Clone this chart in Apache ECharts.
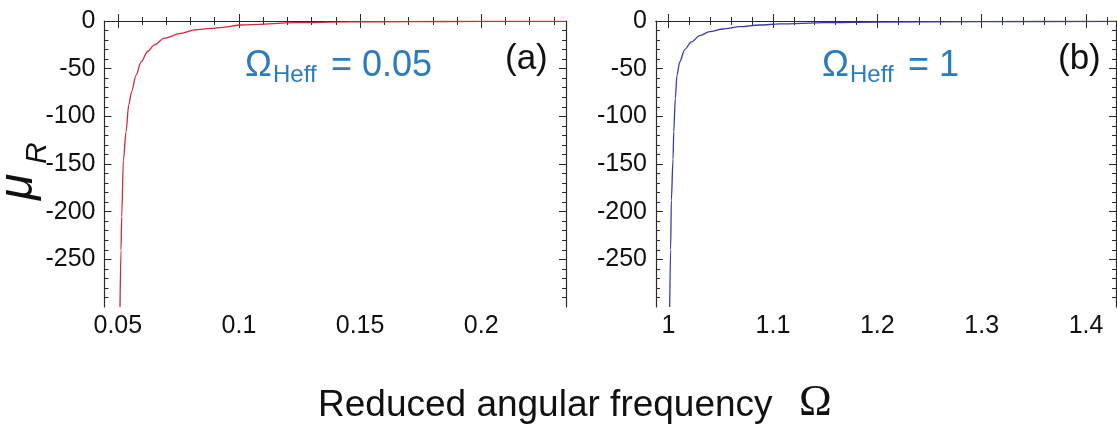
<!DOCTYPE html>
<html>
<head>
<meta charset="utf-8">
<script src="https://cdn.jsdelivr.net/npm/echarts@6/dist/echarts.min.js"></script>
<style>
html,body{margin:0;padding:0;background:#fff;}
#chart{width:1117px;height:430px;}
</style>
</head>
<body>
<div id="chart"></div>
<script>
// ---- data ----
const omegaA = [0.0509, 0.0513, 0.0516, 0.0523, 0.0534, 0.0545, 0.0557, 0.0575, 0.0596, 0.0623, 0.0651, 0.0692, 0.0761, 0.0816, 0.0885, 0.0933, 0.1008, 0.1238, 0.145, 0.17, 0.2, 0.235];
const muA    = [-300, -240, -205, -146, -116, -88, -74, -57, -43, -32, -25, -18, -13, -9.4, -7.7, -6.6, -4.2, -1.8, -1.0, -0.6, -0.4, -0.3];
const omegaB = [1.0011, 1.0020, 1.0027, 1.0043, 1.0050, 1.0065, 1.0081, 1.0107, 1.0155, 1.0218, 1.0299, 1.0394, 1.0522, 1.0681, 1.0873, 1.1064, 1.15, 1.2, 1.3, 1.4287];
const muB    = [-300, -240, -188, -145, -116, -81, -57, -43, -30, -22, -15.4, -11.2, -8.4, -6.0, -4.2, -3.1, -1.8, -1.1, -0.6, -0.4];

const xMajorA = [0.05, 0.1, 0.15, 0.2];
const xMinorA = [0.06, 0.07, 0.08, 0.09, 0.11, 0.12, 0.13, 0.14, 0.16, 0.17, 0.18, 0.19, 0.21, 0.22, 0.23];
const xMajorB = [1, 1.1, 1.2, 1.3, 1.4];
const xMinorB = [1.02, 1.04, 1.06, 1.08, 1.12, 1.14, 1.16, 1.18, 1.22, 1.24, 1.26, 1.28, 1.32, 1.34, 1.36, 1.38, 1.42];
const yMajor = [0, -50, -100, -150, -200, -250];
const yMinor = [-10, -20, -30, -40, -60, -70, -80, -90, -110, -120, -130, -140, -160, -170, -180, -190, -210, -220, -230, -240, -260, -270, -280, -290];

const xRangeA = [0.0445, 0.235];
const xRangeB = [0.988, 1.4287];
const yRange = [-300, 0];

const panelLabels = ['(a)', '(b)'];
const heffValues = ['0.05', '1'];
const xTitle = 'Reduced angular frequency';

// ---- chart ----
const chart = echarts.init(document.getElementById('chart'));
const FRAME = '#2a2a2a';
const labelFont = {fontFamily: 'Liberation Sans, Arial', fontSize: 25, color: '#111'};

function xAxes(grid, range, major, minor) {
  const base = {type: 'value', gridIndex: grid, min: range[0], max: range[1], splitLine: {show: false}};
  return [
    Object.assign({}, base, {position: 'bottom',
      axisLine: {show: true, lineStyle: {color: FRAME, width: 1.2}},
      axisTick: {show: true, inside: true, length: 7, customValues: major, lineStyle: {color: FRAME}},
      axisLabel: Object.assign({show: true, customValues: major, margin: 7}, labelFont)}),
    Object.assign({}, base, {position: 'bottom',
      axisLine: {show: false},
      axisTick: {show: true, inside: true, length: 4, customValues: minor, lineStyle: {color: FRAME}},
      axisLabel: {show: false}}),
    Object.assign({}, base, {position: 'top',
      axisLine: {show: true, lineStyle: {color: FRAME, width: 1.2}},
      axisTick: {show: true, inside: true, length: 7, customValues: major, lineStyle: {color: FRAME}},
      axisLabel: {show: false}}),
    Object.assign({}, base, {position: 'top',
      axisLine: {show: false},
      axisTick: {show: true, inside: true, length: 4, customValues: minor, lineStyle: {color: FRAME}},
      axisLabel: {show: false}})
  ];
}
function yAxes(grid) {
  const base = {type: 'value', gridIndex: grid, min: yRange[0], max: yRange[1], splitLine: {show: false}};
  return [
    Object.assign({}, base, {position: 'left',
      axisLine: {show: true, lineStyle: {color: FRAME, width: 1.2}},
      axisTick: {show: true, inside: true, length: 7, customValues: yMajor, lineStyle: {color: FRAME}},
      axisLabel: Object.assign({show: true, customValues: yMajor, margin: 9}, labelFont)}),
    Object.assign({}, base, {position: 'left',
      axisLine: {show: false},
      axisTick: {show: true, inside: true, length: 4, customValues: yMinor, lineStyle: {color: FRAME}},
      axisLabel: {show: false}}),
    Object.assign({}, base, {position: 'right',
      axisLine: {show: true, lineStyle: {color: FRAME, width: 1.2}},
      axisTick: {show: true, inside: true, length: 7, customValues: yMajor, lineStyle: {color: FRAME}},
      axisLabel: {show: false}}),
    Object.assign({}, base, {position: 'right',
      axisLine: {show: false},
      axisTick: {show: true, inside: true, length: 4, customValues: yMinor, lineStyle: {color: FRAME}},
      axisLabel: {show: false}})
  ];
}

const BLUE_TXT = '#2b7bbd';
function heffGroup(x, val) {
  return {
    type: 'group', x: x, y: 0, children: [
      {type: 'text', x: 0, y: 48, style: {text: 'Ω', font: '36px "Liberation Sans", Arial', fill: BLUE_TXT, verticalAlign: 'top'}},
      {type: 'text', x: 28, y: 63, style: {text: 'Heff', font: '24px "Liberation Sans", Arial', fill: BLUE_TXT, verticalAlign: 'top'}},
      {type: 'text', x: 86, y: 48, style: {text: '= ' + val, font: '36px "Liberation Sans", Arial', fill: BLUE_TXT, verticalAlign: 'top'}}
    ]
  };
}

const option = {
  backgroundColor: '#fff',
  animation: false,
  grid: [
    {left: 104.5, top: 21, width: 461.5, height: 286},
    {left: 656, top: 21, width: 460, height: 286}
  ],
  xAxis: [].concat(xAxes(0, xRangeA, xMajorA, xMinorA), xAxes(1, xRangeB, xMajorB, xMinorB)),
  yAxis: [].concat(yAxes(0), yAxes(1)),
  series: [
    {type: 'line', xAxisIndex: 0, yAxisIndex: 0, showSymbol: false, smooth: 0.3, smoothMonotone: 'x',
     lineStyle: {color: '#cf2a3a', width: 1.3}, data: omegaA.map((x, i) => [x, muA[i]]), clip: true},
    {type: 'line', xAxisIndex: 4, yAxisIndex: 4, showSymbol: false, smooth: 0.3, smoothMonotone: 'x',
     lineStyle: {color: '#3b3ba8', width: 1.3}, data: omegaB.map((x, i) => [x, muB[i]]), clip: true}
  ],
  graphic: [
    heffGroup(245, heffValues[0]),
    heffGroup(822, heffValues[1]),
    {type: 'text', x: 505, y: 42, style: {text: panelLabels[0], font: '35px "Liberation Sans", Arial', fill: '#111', verticalAlign: 'top'}},
    {type: 'text', x: 1058, y: 42, style: {text: panelLabels[1], font: '35px "Liberation Sans", Arial', fill: '#111', verticalAlign: 'top'}},
    {type: 'group', x: -5, y: 200, rotation: Math.PI / 2, children: [
      {type: 'text', x: 0, y: 0, style: {text: 'μ', font: 'italic 48px "Liberation Sans", Arial', fill: '#111', verticalAlign: 'top'}},
      {type: 'text', x: 36, y: 28, style: {text: 'R', font: 'italic 30px "Liberation Sans", Arial', fill: '#111', verticalAlign: 'top'}}
    ]},
    {type: 'text', x: 318, y: 387, style: {text: xTitle, font: '37px "Liberation Sans", Arial', fill: '#111', verticalAlign: 'top'}},
    {type: 'text', x: 799, y: 381, style: {text: 'Ω', font: '44px "Liberation Serif", "Times New Roman", serif', fill: '#111', verticalAlign: 'top'}}
  ]
};
chart.setOption(option);
</script>
</body>
</html>
